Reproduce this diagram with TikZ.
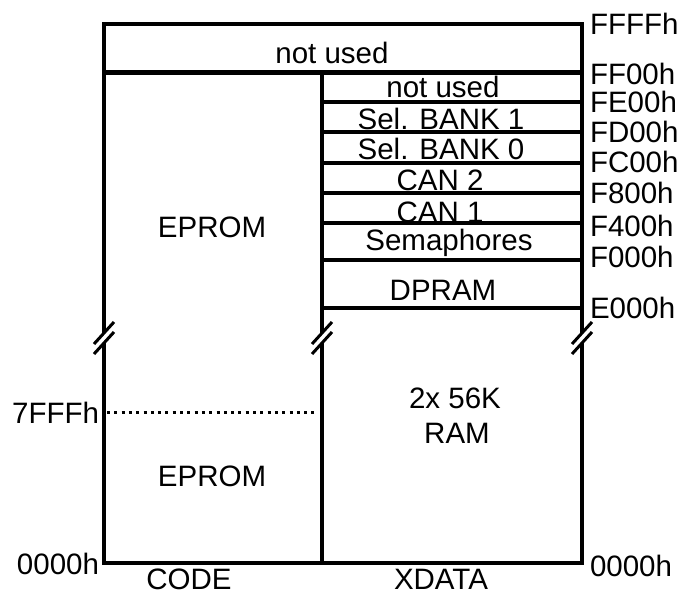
\documentclass[tikz,border=0pt]{standalone}
\usepackage{fontspec}
\setmainfont{Liberation Sans}
\usetikzlibrary{positioning}

\begin{document}
\begin{tikzpicture}[x=1pt, y=-1pt, line width=4pt,
  every node/.style={inner sep=0pt, font=\fontsize{29.5}{34}\selectfont},
  addr/.style={anchor=west},
  cell/.style={anchor=base},
  sep/.style={line width=3.5pt},
  brk/.style={line width=3pt}]
\useasboundingbox (0,0) rectangle (682,596);

% not used block on top
\draw (104,24) rectangle (582,73);
\draw[line width=5pt] (104,73) -- (582,73);
\node[cell] (topfree) at (332,64) {not used};

% outer frame, broken at the gap
\draw (104,73) -- (104,333);
\draw (104,343) -- (104,563) -- (582,563) -- (582,343);
\draw (582,333) -- (582,24);
% CODE / XDATA divider
\draw (322,73) -- (322,333);
\draw (322,343) -- (322,563);

% break marks
\foreach \bx in {104,322,582} {
  \draw[brk] (\bx-10,344) -- (\bx+10,322);
  \draw[brk] (\bx-10,354) -- (\bx+10,332);
}

% XDATA top area
\draw[sep] (322,102) -- (582,102);
\draw[sep] (322,132) -- (582,132);
\draw[sep] (322,163) -- (582,163);
\draw[sep] (322,193) -- (582,193);
\draw[sep] (322,223) -- (582,223);
\draw[sep] (322,260) -- (582,260);
\draw[sep] (322,308) -- (582,308);
\node[cell] (free) at (443,98) {not used};
\node[cell] (bank1) at (441,130) {Sel. BANK 1};
\node[cell] (bank0) at (441,160) {Sel. BANK 0};
\node[cell] (can2) at (440,190) {CAN 2};
\node[cell] (can1) at (440,222) {CAN 1};
\node[cell] (sema) at (449,250) {Semaphores};
\node[cell] (dpram) at (443,300) {DPRAM};

% XDATA RAM
\node[cell] (ram1) at (455,408) {2x 56K};
\node[cell] (ram2) at (457,443) {RAM};

% CODE area
\node[cell] (eprom1) at (212,237) {EPROM};
\node[cell] (eprom2) at (212,486) {EPROM};
\draw[line width=3pt, dash pattern=on 3pt off 4.3pt] (107,412) -- (316,412);

% addresses
\node[addr] (aFFFF) at (588,24) {FFFFh};
\node[addr] (aFF00) at (588,74) {FF00h};
\node[addr] (aFE00) at (588,102) {FE00h};
\node[addr] (aFD00) at (588,132) {FD00h};
\node[addr] (aFC00) at (588,162) {FC00h};
\node[addr] (aF800) at (588,193) {F800h};
\node[addr] (aF400) at (588,226) {F400h};
\node[addr] (aF000) at (588,257) {F000h};
\node[addr] (aE000) at (588,308) {E000h};
\node[addr] (aR0000) at (588,566) {0000h};
\node[anchor=east] (a7FFF) at (101,413) {7FFFh};
\node[anchor=east] (aC0000) at (101,564) {0000h};

% space names
\node[cell] (code) at (189,589) {CODE};
\node[cell] (xdata) at (441,589) {XDATA};
\end{tikzpicture}
\end{document}
